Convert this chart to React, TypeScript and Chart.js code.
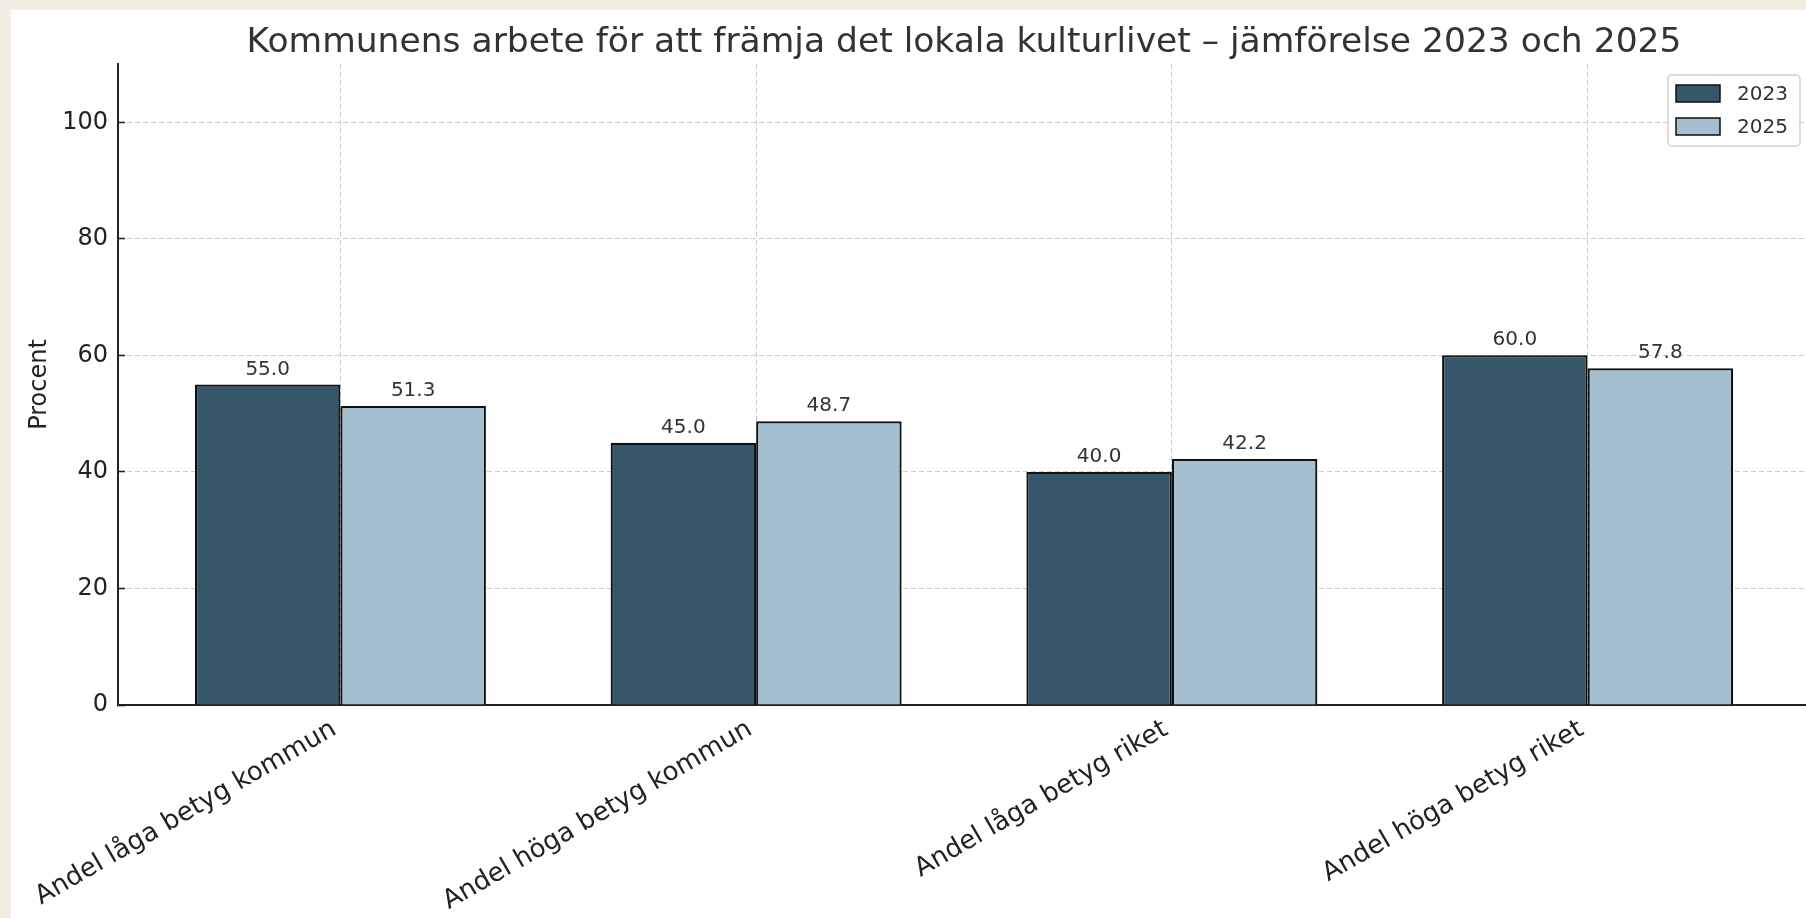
import { useEffect, useRef } from "react";
import { Chart, registerables } from "chart.js";

Chart.register(...registerables);

const TITLE = "Kommunens arbete för att främja det lokala kulturlivet – jämförelse 2023 och 2025";
const Y_TITLE = "Procent";
const CATEGORIES = [
  "Andel låga betyg kommun",
  "Andel höga betyg kommun",
  "Andel låga betyg riket",
  "Andel höga betyg riket",
];
const SERIES_LABELS = ["2023", "2025"];
const VALUES_2023 = [55.0, 45.0, 40.0, 60.0];
const VALUES_2025 = [51.3, 48.7, 42.2, 57.8];
const Y_TICKS = [0, 20, 40, 60, 80, 100];
const Y_MAX = 110;
const X_MARGIN = 0.535;

const COLORS = ["#36576B", "#A4BFD0"];
const FONT = "'DejaVu Sans', sans-serif";
const GRID_DASH = [5, 3];

const valueLabelPlugin = {
  id: "valueLabels",
  afterDatasetsDraw(chart: any) {
    const ctx = chart.ctx;
    ctx.save();
    ctx.font = `20px ${FONT}`;
    ctx.fillStyle = "#333333";
    ctx.textAlign = "center";
    ctx.textBaseline = "alphabetic";
    chart.data.datasets.forEach((ds: any, di: number) => {
      const meta = chart.getDatasetMeta(di);
      meta.data.forEach((bar: any, i: number) => {
        const v = ds.data[i].y;
        ctx.fillText(v.toFixed(1), bar.x, bar.y - 10);
      });
    });
    ctx.restore();
  },
};

const legendPlugin = {
  id: "boxLegend",
  afterDraw(chart: any) {
    const ctx = chart.ctx;
    const area = chart.chartArea;
    const w = 132;
    const h = 71;
    const right = area.right - 10;
    const top = area.top + 11;
    const left = right - w;
    ctx.save();
    ctx.beginPath();
    (ctx as any).roundRect(left, top, w, h, 4);
    ctx.fillStyle = "rgba(255,255,255,0.85)";
    ctx.fill();
    ctx.strokeStyle = "#d0d0d0";
    ctx.lineWidth = 1.5;
    ctx.stroke();
    ctx.font = `20px ${FONT}`;
    ctx.textAlign = "left";
    ctx.textBaseline = "middle";
    chart.data.datasets.forEach((ds: any, i: number) => {
      const cy = top + 18.5 + i * 33;
      ctx.fillStyle = ds.backgroundColor;
      ctx.fillRect(left + 8, cy - 8.5, 44, 17);
      ctx.strokeStyle = "#111111";
      ctx.lineWidth = 1.5;
      ctx.strokeRect(left + 8, cy - 8.5, 44, 17);
      ctx.fillStyle = "#333333";
      ctx.fillText(ds.label, left + 69, cy + 1);
    });
    ctx.restore();
  },
};

export default function App() {
  const ref = useRef<HTMLCanvasElement | null>(null);

  useEffect(() => {
    if (!ref.current) return;
    Chart.defaults.font.family = FONT;
    const series = [VALUES_2023, VALUES_2025];
    const chart = new Chart(ref.current, {
      type: "bar",
      data: {
        datasets: series.map((vals, si) => ({
          label: SERIES_LABELS[si],
          data: vals.map((v, i) => ({ x: i, y: v })),
          backgroundColor: COLORS[si],
          borderColor: "#111111",
          borderWidth: 2.2,
          categoryPercentage: 0.7,
          barPercentage: 1.0,
        })),
      },
      options: {
        animation: false,
        responsive: false,
        layout: { padding: { left: 0, right: 16, top: 0, bottom: 0 } },
        plugins: {
          legend: { display: false },
          tooltip: { enabled: false },
          title: {
            display: true,
            text: TITLE,
            fullSize: false,
            color: "#333333",
            font: { size: 34.5, weight: "normal", family: FONT, lineHeight: 1.2 },
            padding: { top: 12, bottom: 0.6 },
          },
        },
        scales: {
          x: {
            type: "linear",
            offset: false,
            min: -X_MARGIN,
            max: CATEGORIES.length - 1 + X_MARGIN,
            afterBuildTicks: (s: any) => {
              s.ticks = CATEGORIES.map((_, i) => ({ value: i }));
            },
            afterFit: (s: any) => {
              s.height = 213;
            },
            ticks: {
              autoSkip: false,
              minRotation: 30,
              maxRotation: 30,
              padding: 9,
              labelOffset: -6,
              color: "#222222",
              font: { size: 26, family: FONT },
              callback: (v: any) => CATEGORIES[v] ?? "",
            },
            grid: {
              offset: false,
              color: "#cccccc",
              lineWidth: 1,
              drawTicks: false,
            },
            border: { color: "#222222", width: 2, dash: GRID_DASH },
          },
          y: {
            min: 0,
            max: Y_MAX,
            afterBuildTicks: (s: any) => {
              s.ticks = Y_TICKS.map((v) => ({ value: v }));
            },
            afterFit: (s: any) => {
              s.width = 107;
            },
            ticks: {
              padding: 17,
              color: "#222222",
              font: { size: 24, family: FONT },
            },
            grid: {
              color: "#cccccc",
              lineWidth: 1,
              tickLength: -7,
              tickColor: "#222222",
              tickWidth: 1.6,
              tickBorderDash: [],
            },
            border: { color: "#222222", width: 2, dash: GRID_DASH },
            title: {
              display: true,
              text: Y_TITLE,
              color: "#222222",
              font: { size: 24, family: FONT },
              padding: { top: 14, bottom: 0 },
            },
          },
        },
      } as any,
      plugins: [valueLabelPlugin, legendPlugin],
    });
    return () => chart.destroy();
  }, []);

  return (
    <div
      style={{
        position: "fixed",
        left: 0,
        top: 0,
        width: 1806,
        height: 918,
        background: "#F1EDE3",
        overflow: "hidden",
      }}
    >
      <div
        style={{
          position: "absolute",
          left: 11,
          top: 10,
          width: 1815,
          height: 908,
          background: "#ffffff",
        }}
      >
        <canvas ref={ref} width={1815} height={908} style={{ width: 1815, height: 908, display: "block" }} />
      </div>
    </div>
  );
}
